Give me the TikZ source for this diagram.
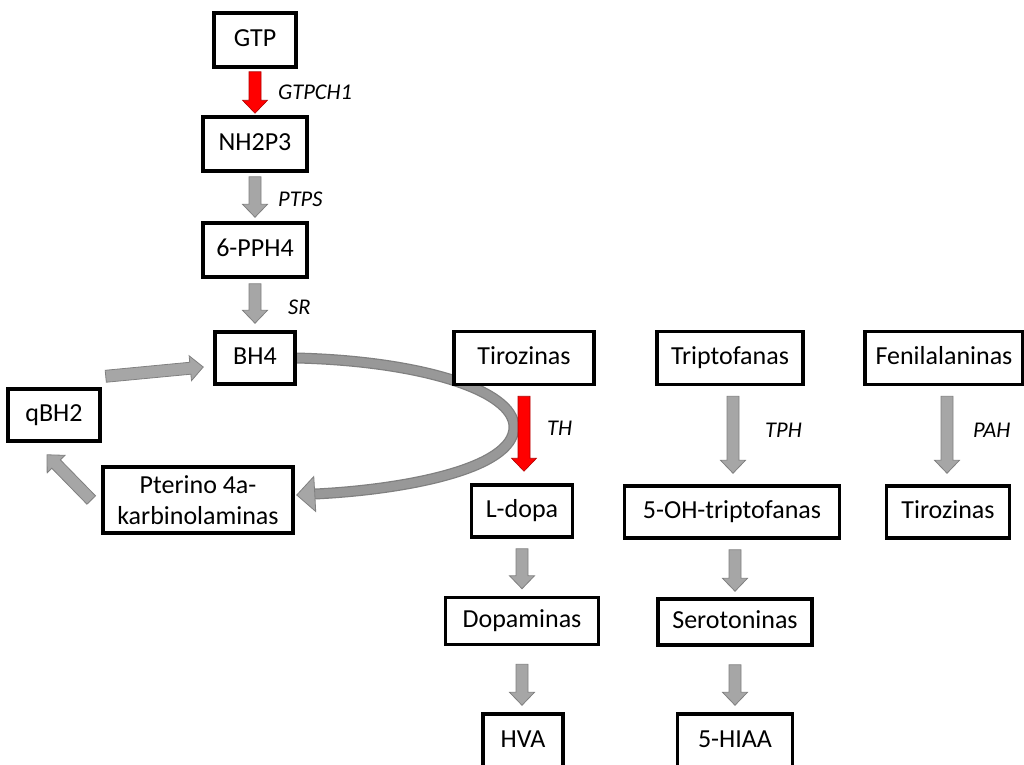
\documentclass[tikz,border=0pt]{standalone}
\usepackage{fontspec}
\setmainfont{Carlito}
\usetikzlibrary{calc,backgrounds}
\definecolor{agray}{RGB}{166,166,166}
\definecolor{aedge}{RGB}{128,128,128}
\definecolor{bandin}{RGB}{152,152,152}
\tikzset{
  box/.style={draw=black, line width=3.5pt, fill=white, inner sep=0pt, align=center,
    font=\fontsize{26}{31}\selectfont},
  sbox/.style={box, text height=18pt, text depth=6pt},
  enz/.style={anchor=west, inner sep=0pt, font=\fontsize{22.5}{26}\selectfont\itshape},
  grayarr/.style={fill=agray, draw=aedge, line width=0.8pt},
  redarr/.style={fill=red, draw=red!70!black, line width=0.6pt},
}
\newcommand\blockarr[3]{%
  \coordinate (bA) at (#2);
  \coordinate (bB) at (#3);
  \coordinate (bH) at ($(bB)!13pt!(bA)$);
  \filldraw[#1] ($(bA)!6pt!90:(bB)$) -- ($(bH)!6pt!90:(bB)$) -- ($(bH)!12.5pt!90:(bB)$)
    -- (bB) -- ($(bH)!12.5pt!-90:(bB)$) -- ($(bH)!6pt!-90:(bB)$) -- ($(bA)!6pt!-90:(bB)$) -- cycle;
}
\begin{document}
\begin{tikzpicture}[x=1pt, y=-1pt]
\clip (0,0) rectangle (1024,764);

% nodes
\node[sbox, minimum width=82pt,  minimum height=54pt] (gtp)  at (255,40)  {GTP};
\node[sbox, minimum width=104pt, minimum height=54pt] (nh)   at (255,144) {NH2P3};
\node[sbox, minimum width=104pt, minimum height=54pt] (pph)  at (255,250) {6-PPH4};
\node[sbox, minimum width=80pt,  minimum height=52pt] (bh4)  at (255,358) {BH4};
\node[sbox, minimum width=140pt, minimum height=53pt] (tir)  at (524,358) {Tirozinas};
\node[sbox, minimum width=146pt, minimum height=53pt] (tri)  at (730,358) {Triptofanas};
\node[sbox, minimum width=158pt, minimum height=53pt] (fen)  at (944,358) {Fenilalaninas};
\node[sbox, minimum width=92pt,  minimum height=52pt] (qbh)  at (54,415)  {qBH2};
\node[box,  minimum width=190pt, minimum height=66pt] (pter) at (198,500) {Pterino 4a-\\karbinolaminas};
\node[sbox, minimum width=101pt, minimum height=52pt] (ldopa) at (522,511) {L-dopa};
\node[sbox, minimum width=215pt, minimum height=52pt] (oht)  at (732,512) {5-OH-triptofanas};
\node[sbox, minimum width=123pt, minimum height=52pt] (tir2) at (948,512) {Tirozinas};
\node[sbox, minimum width=153pt, minimum height=47pt] (dopa) at (522,621) {Dopaminas};
\node[sbox, minimum width=154pt, minimum height=46pt] (sero) at (735,622) {Serotoninas};
\node[sbox, minimum width=80pt,  minimum height=54pt] (hva)  at (523,741) {HVA};
\node[sbox, minimum width=115pt, minimum height=54pt] (hiaa) at (735,741) {5-HIAA};

% curved arrow (behind boxes)
\begin{pgfonlayer}{background}
\coordinate (cend) at ($(pter.east)+(20,-6)$);
\coordinate (ctip) at ($(pter.east)+(2,-5)$);
\draw[line width=11pt, aedge] (bh4.east) .. controls (420,361) and (514,390) .. (514,427)
   .. controls (514,470) and (400,490) .. (cend);
\draw[line width=8.5pt, bandin] (bh4.east) .. controls (420,361) and (514,390) .. (514,427)
   .. controls (514,470) and (400,490) .. (cend);
\filldraw[grayarr] ($(cend)!17.5pt!90:(ctip)$) -- (ctip) -- ($(cend)!17.5pt!-90:(ctip)$) -- cycle;
\end{pgfonlayer}

% straight block arrows
\blockarr{redarr}{$(gtp.south)+(0,3)$}{$(nh.north)+(0,-2)$}
\blockarr{grayarr}{$(nh.south)+(0,4)$}{$(pph.north)+(0,-4)$}
\blockarr{grayarr}{$(pph.south)+(0,5)$}{$(bh4.north)+(0,-7)$}
\blockarr{redarr}{$(tir.south)+(0,10)$}{$(tir.south |- ldopa.north)+(0,-12)$}
\blockarr{grayarr}{$(tri.south)+(3,10)$}{$(tri.south |- oht.north)+(3,-11)$}
\blockarr{grayarr}{$(fen.south)+(3,10)$}{$(fen.south |- tir2.north)+(3,-11)$}
\blockarr{grayarr}{$(ldopa.south)+(0,10)$}{$(ldopa.south |- dopa.north)+(0,-7)$}
\blockarr{grayarr}{$(dopa.south)+(0,18)$}{$(dopa.south |- hva.north)+(0,-7)$}
\blockarr{grayarr}{$(oht.south)+(3,10)$}{$(oht.south |- sero.north)+(3,-6)$}
\blockarr{grayarr}{$(sero.south)+(0,18)$}{$(sero.south |- hiaa.north)+(0,-7)$}
\blockarr{grayarr}{$(qbh.north east)+(4,-11)$}{$(bh4.west)+(-10,9)$}
\blockarr{grayarr}{$(pter.west)+(-10,0)$}{$(qbh.south)+(-7,12)$}

% enzyme labels
\node[enz] (l1) at (278,92)  {GTPCH1};
\node[enz] (l2) at (278,199) {PTPS};
\node[enz] (l3) at (288,307) {SR};
\node[enz] (l4) at (547,428) {TH};
\node[enz] (l5) at (765,430) {TPH};
\node[enz] (l6) at (973,430) {PAH};
\end{tikzpicture}
\end{document}
